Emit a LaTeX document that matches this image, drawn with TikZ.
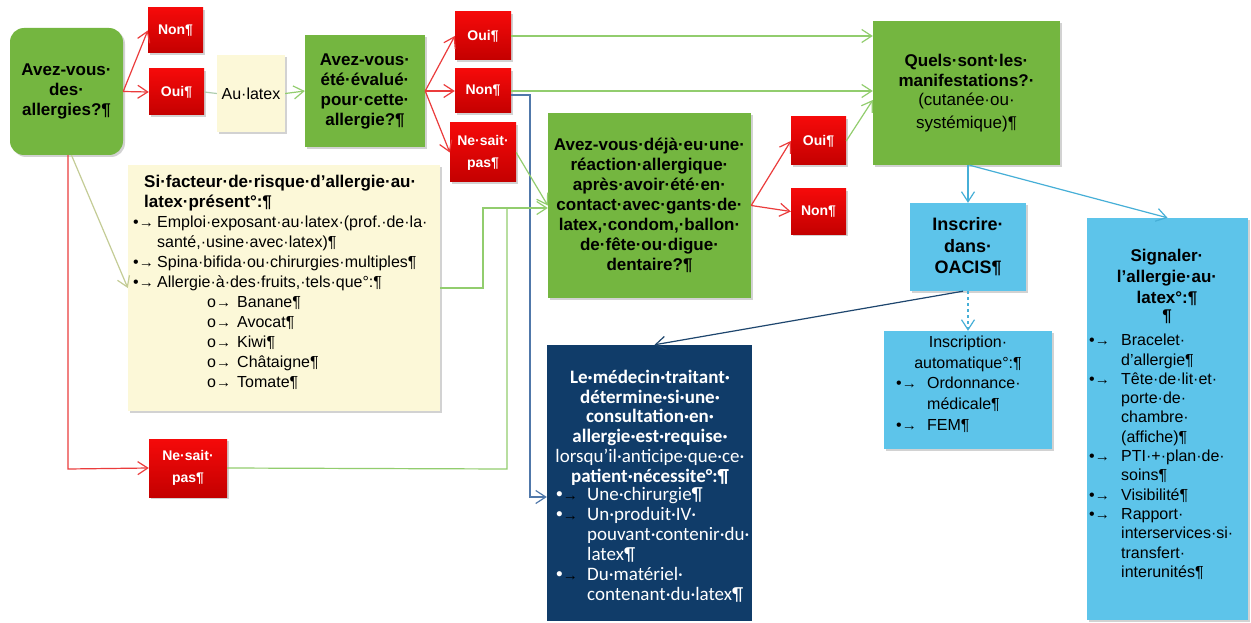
\documentclass[tikz,border=0pt]{standalone}
\usepackage{fontspec}
\setmainfont{Liberation Sans}
\newfontfamily\carl{Carlito}
\newfontfamily\libs{Liberation Sans}
\usetikzlibrary{arrows.meta,shadows}
\definecolor{gfill}{RGB}{116,182,64}
\definecolor{rtop}{RGB}{245,10,10}
\definecolor{rbot}{RGB}{196,0,0}
\definecolor{cfill}{RGB}{252,248,216}
\definecolor{bfill}{RGB}{93,196,234}
\definecolor{nfill}{RGB}{16,60,105}
\definecolor{gline}{RGB}{146,205,110}
\definecolor{oline}{RGB}{196,204,150}
\definecolor{rline}{RGB}{235,60,60}
\definecolor{bline}{RGB}{70,175,215}
\definecolor{nline}{RGB}{30,70,110}
\definecolor{sline}{RGB}{80,120,170}
\definecolor{pline}{RGB}{175,205,175}
\newcommand\fsz[2]{\fontsize{#1}{#2}\selectfont}
\newcommand\bl[1]{\makebox[#1][l]{{\libs •}{\libs\fsz{15}{15}→}}}
\newcommand\wbl[1]{\makebox[#1][l]{{\libs\color{white}•}{\libs\fsz{15}{15}\color{black}→}}}
\newcommand\sbl{\makebox[30pt][l]{o{\fsz{15}{15}→}}}
\begin{document}
\begin{tikzpicture}[x=1pt,y=-1pt,
  box/.style={draw=none, inner sep=0pt, align=center},
  shad/.style={drop shadow={shadow xshift=2pt,shadow yshift=-2pt,opacity=.35}},
  gbox/.style={box, shad, fill=gfill, font=\bfseries\fsz{17}{20}},
  rbox/.style={box, shad, top color=rtop, bottom color=rbot, text=white, font=\bfseries\fsz{14}{22}},
  cbox/.style={box, shad, fill=cfill},
  bbox/.style={box, shad, fill=bfill},
  nbox/.style={box, fill=nfill, text=white},
  txt/.style={inner sep=0pt},
  tip/.style={-{Straight Barb[length=10pt,width=13pt]}},
  conn/.style={line width=1.2pt},
  redc/.style={conn, draw=rline, tip},
  greenc/.style={conn, draw=gline, tip},
  bluec/.style={conn, draw=bline, tip}]
\useasboundingbox (0,0) rectangle (1251,623);
\fill[white] (0,0) rectangle (1251,623);

% nodes
\node[gbox, rounded corners=14pt, minimum width=113pt, minimum height=127pt] (q1) at (66.5,91.5) {Avez-vous·\\des·\\allergies?¶};
\node[rbox, minimum width=55pt, minimum height=45pt] (non1) at (175.5,30.5) {Non¶};
\node[rbox, minimum width=55pt, minimum height=46pt] (oui1) at (176.5,92) {Oui¶};
\node[cbox, minimum width=68pt, minimum height=77pt, font=\fsz{16}{20}] (latex) at (251,93.5) {Au·latex};
\node[gbox, minimum width=120pt, minimum height=112pt] (q2) at (365,91) {Avez-vous·\\été·évalué·\\pour·cette·\\allergie?¶};
\node[rbox, minimum width=56pt, minimum height=48pt] (oui2) at (483,36) {Oui¶};
\node[rbox, minimum width=56pt, minimum height=44pt] (non2) at (483,91) {Non¶};
\node[rbox, minimum width=66pt, minimum height=59pt] (nsp2) at (483,152.5) {Ne·sait·\\pas¶};
\node[gbox, minimum width=203pt, minimum height=185pt] (q3) at (649.5,205.5) {Avez-vous·déjà·eu·une·\\réaction·allergique·\\après·avoir·été·en·\\contact·avec·gants·de·\\latex,·condom,·ballon·\\de·fête·ou·digue·\\dentaire?¶};
\node[rbox, minimum width=55pt, minimum height=48pt] (oui3) at (818.5,141) {Oui¶};
\node[rbox, minimum width=55pt, minimum height=45pt] (non3) at (818.5,211.5) {Non¶};
\node[gbox, minimum width=187pt, minimum height=144pt] (q4) at (966.5,93) {Quels·sont·les·\\manifestations?·\\[-1pt]{\mdseries (cutanée·ou·}\\[3pt]{\mdseries systémique)¶}};
\node[bbox, minimum width=116pt, minimum height=88pt, font=\bfseries\fsz{18}{21.5}] (oacis) at (968,247) {Inscrire·\\dans·\\OACIS¶};
\node[bbox, minimum width=168pt, minimum height=118pt] (auto) at (968,390) {};
\node[bbox, minimum width=161pt, minimum height=402pt] (sign) at (1167.5,419) {};
\node[cbox, minimum width=312pt, minimum height=246pt] (risk) at (284,288) {};
\node[rbox, minimum width=78pt, minimum height=58pt] (nsp1) at (188,468) {Ne·sait·\\pas¶};
\node[nbox, minimum width=205pt, minimum height=276pt] (doc) at (649.5,483) {};

% texts inside boxes
\node[txt, anchor=north west, align=left, font=\fsz{16}{20}] (risktxt) at (133,175) {%
\hspace*{11pt}{\bfseries\fsz{17}{20}Si·facteur·de·risque·d’allergie·au·}\\
\hspace*{11pt}{\bfseries\fsz{17}{20}latex·présent°:¶}\\
\bl{24pt}Emploi·exposant·au·latex·(prof.·de·la·\\
\hspace*{24pt}santé,·usine·avec·latex)¶\\
\bl{24pt}Spina·bifida·ou·chirurgies·multiples¶\\
\bl{24pt}Allergie·à·des·fruits,·tels·que°:¶\\
\hspace*{74pt}\sbl Banane¶\\
\hspace*{74pt}\sbl Avocat¶\\
\hspace*{74pt}\sbl Kiwi¶\\
\hspace*{74pt}\sbl Châtaigne¶\\
\hspace*{74pt}\sbl Tomate¶};

\node[txt, anchor=north, align=center, text=white, font=\carl\fsz{19}{19.7}] (doch) at (650,370) {%
\textbf{Le·médecin·traitant·}\\
\textbf{détermine·si·une·}\\
\textbf{consultation·en·}\\
\textbf{allergie·est·requise·}\\
lorsqu’il·anticipe·que·ce·\\
\textbf{patient·nécessite°:¶}};
\node[txt, anchor=north west, align=left, text=white, font=\carl\fsz{19}{20}] (docl) at (556,487) {%
\wbl{31pt}Une·chirurgie¶\\
\wbl{31pt}Un·produit·IV·\\
\hspace*{31pt}pouvant·contenir·du·\\
\hspace*{31pt}latex¶\\
\wbl{31pt}Du·matériel·\\
\hspace*{31pt}contenant·du·latex¶};

\node[txt, anchor=north, align=center, font=\fsz{16}{21}] (autoh) at (968,336) {Inscription·\\automatique°:¶};
\node[txt, anchor=north west, align=left, font=\fsz{16}{21}] (autol) at (896,377) {%
\bl{31pt}Ordonnance·\\
\hspace*{31pt}médicale¶\\
\bl{31pt}FEM¶};

\node[txt, anchor=north, align=center, font=\bfseries\fsz{17}{21}] (signh) at (1167,249) {Signaler·\\l’allergie·au·\\latex°:¶\\[-3pt]¶};
\node[txt, anchor=north west, align=left, font=\fsz{16}{19.3}] (signl) at (1089,334) {%
\bl{32pt}Bracelet·\\
\hspace*{32pt}d’allergie¶\\
\bl{32pt}Tête·de·lit·et·\\
\hspace*{32pt}porte·de·\\
\hspace*{32pt}chambre·\\
\hspace*{32pt}(affiche)¶\\
\bl{32pt}PTI·+·plan·de·\\
\hspace*{32pt}soins¶\\
\bl{32pt}Visibilité¶\\
\bl{32pt}Rapport·\\
\hspace*{32pt}interservices·si·\\
\hspace*{32pt}transfert·\\
\hspace*{32pt}interunités¶};

% helper coordinates
\coordinate (nb1) at (530,95);
\coordinate (nb2) at (530,497);
\coordinate (j1) at (483,288);
\coordinate (j2) at (483,208);
\coordinate (j3) at (507,469);
\coordinate (j4) at (507,208);
\coordinate (r1) at (68,469);

% connectors
\draw[redc] (q1.east) -- (non1.west);
\draw[redc] (q1.east) -- (oui1.west);
\draw[conn, draw=pline] (oui1.east) -- (latex.west);
\draw[greenc] (latex.east) -- (q2.west);
\draw[redc] (q2.east) -- (oui2.west);
\draw[redc] (q2.east) -- (non2.west);
\draw[redc] (q2.east) -- (nsp2.west);
\draw[greenc] (oui2.east) -- (oui2.east -| q4.west);
\draw[greenc] (non2.east) -- (non2.east -| q4.west);
\draw[conn, draw=sline, tip] ([yshift=-4pt]non2.east) -- (nb1) -- (nb2) -- (nb2 -| doc.west);
\draw[greenc] (nsp2.east) -- (q3.west);
\draw[greenc] (risk.east) -- (j1) -- (j2) -- (j2 -| q3.west);
\draw[conn, draw=gline] (nsp1.east) -- (j3) -- (j4);
\draw[redc] ([xshift=1.5pt]q1.south) -- (r1) -- (nsp1.west);
\draw[conn, draw=oline, tip] ([xshift=5pt]q1.south) -- (risk.west);
\draw[redc] (q3.east) -- (oui3.west);
\draw[redc] (q3.east) -- (non3.west);
\draw[greenc] (oui3.east) -- ([yshift=-7pt]q4.west);
\draw[bluec] (oacis.north |- q4.south) -- (oacis.north);
\draw[bluec] ([xshift=3pt]q4.south) -- (sign.north);
\draw[bluec, dashed] (oacis.south) -- (auto.north);
\draw[conn, draw=nline, tip] ([xshift=-5pt]oacis.south) -- ([xshift=5pt]doc.north);
\end{tikzpicture}
\end{document}
